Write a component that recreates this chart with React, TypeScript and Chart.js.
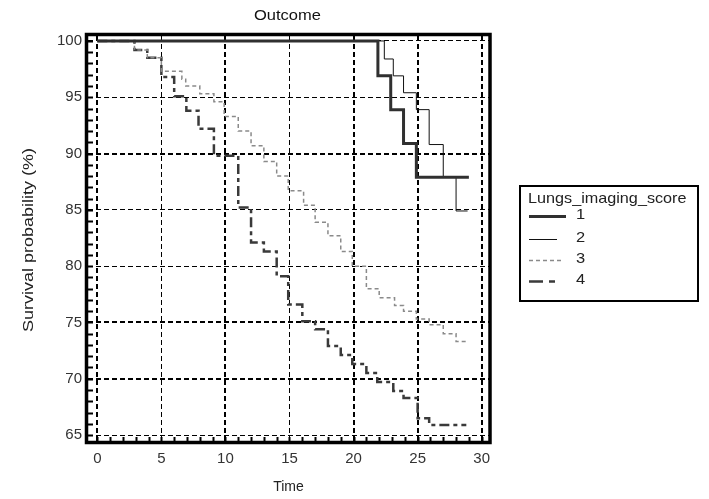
import React, { useEffect, useRef } from 'react';
import { Chart, registerables } from 'chart.js';

Chart.register(...registerables);

// ---- text ----
const chartTitle = 'Outcome';
const xAxisTitle = 'Time';
const yAxisTitle = 'Survival probability (%)';
const legendTitle = 'Lungs_imaging_score';
const seriesLabels = ['1', '2', '3', '4'];

// ---- tick values ----
const xTicks = [0, 5, 10, 15, 20, 25, 30];
const yTicks = [65, 70, 75, 80, 85, 90, 95, 100];

// ---- Kaplan-Meier steps (time of step, survival % after it) ----
const times1 = [0, 21.9, 22.9, 23.9, 24.9, 29.0];
const surv1 = [100, 96.9, 93.9, 90.9, 87.9, 87.9];

const times2 = [0, 22.4, 23.1, 23.9, 24.9, 25.9, 27.0, 28.0, 28.9];
const surv2 = [100, 98.4, 96.9, 95.4, 93.9, 90.8, 87.9, 84.9, 84.9];

const times3 = [0, 2.9, 3.9, 5.0, 6.6, 6.9, 8.0, 9.1, 9.9, 11.0, 12.0, 13.0, 14.0, 14.9, 16.1, 17.0, 18.0, 19.0, 19.9, 21.0, 22.0, 23.2, 23.9, 24.9, 25.9, 27.0, 28.0, 28.8];
const surv3 = [100, 99.2, 98.5, 97.3, 96.6, 96.0, 95.3, 94.6, 93.3, 92.0, 90.7, 89.3, 88.0, 86.7, 85.4, 83.9, 82.7, 81.3, 80.0, 78.0, 77.2, 76.5, 76.0, 75.3, 74.8, 74.0, 73.3, 73.3];

const times4 = [0, 2.9, 3.9, 5.0, 6.0, 6.95, 7.9, 9.1, 11.0, 12.0, 13.0, 14.0, 14.9, 16.0, 17.0, 18.0, 19.0, 19.9, 21.0, 21.85, 23.1, 23.9, 25.0, 25.9, 28.8];
const surv4 = [100, 99.2, 98.5, 96.8, 95.1, 93.8, 92.2, 89.8, 85.2, 82.1, 81.3, 79.1, 76.6, 75.1, 74.4, 72.9, 72.1, 71.3, 70.5, 69.7, 68.9, 68.3, 66.5, 65.9, 65.9];

const seriesTimes = [times1, times2, times3, times4];
const seriesSurv = [surv1, surv2, surv3, surv4];

const seriesStyles = [
  { color: '#303030', width: 3, dash: [] as number[] },
  { color: '#111111', width: 1, dash: [] as number[] },
  { color: '#8a8a8a', width: 1.5, dash: [4, 3] },
  { color: '#3a3a3a', width: 2.5, dash: [10, 4, 4, 4] },
];

const FONT = "'Liberation Sans', Arial, sans-serif";

function stretchedText(
  ctx: CanvasRenderingContext2D,
  text: string,
  x: number,
  y: number,
  size: number,
  sx: number,
  align: CanvasTextAlign,
  color: string,
  rotate = 0
) {
  ctx.save();
  ctx.translate(x, y);
  if (rotate) ctx.rotate(rotate);
  ctx.scale(sx, 1);
  ctx.font = `${size}px ${FONT}`;
  ctx.fillStyle = color;
  ctx.textAlign = align;
  ctx.textBaseline = 'middle';
  ctx.fillText(text, 0, 0);
  ctx.restore();
}

const decorPlugin = {
  id: 'decor',
  afterDraw(chart: any) {
    const ctx: CanvasRenderingContext2D = chart.ctx;
    const x = chart.scales.x;
    const y = chart.scales.y;
    const area = chart.chartArea;

    // minor inward ticks
    ctx.save();
    ctx.strokeStyle = '#000';
    ctx.lineWidth = 2;
    ctx.beginPath();
    for (let v = Math.ceil(y.min); v <= Math.floor(y.max); v++) {
      const py = Math.round(y.getPixelForValue(v)) + 0.5;
      ctx.moveTo(area.left, py);
      ctx.lineTo(area.left + 5, py);
    }
    for (let v = Math.ceil(x.min); v <= Math.floor(x.max); v++) {
      const px = Math.round(x.getPixelForValue(v)) + 0.5;
      ctx.moveTo(px, area.bottom);
      ctx.lineTo(px, area.bottom - 4);
    }
    ctx.stroke();

    // frame
    ctx.lineWidth = 3.5;
    ctx.strokeStyle = '#000';
    ctx.strokeRect(area.left - 1.5, area.top - 1.5, area.right - area.left + 2.5, area.bottom - area.top + 3);
    ctx.restore();

    // titles
    const cx = (area.left + area.right) / 2;
    stretchedText(ctx, chartTitle, cx - 1, 16, 15, 1.1, 'center', '#111');
    stretchedText(ctx, xAxisTitle, cx, 487, 14, 1.0, 'center', '#222');
    stretchedText(ctx, yAxisTitle, 29, 240, 15, 1.2, 'center', '#222', -Math.PI / 2);

    // legend
    const lx = 520, ly = 186, lw = 178, lh = 115;
    ctx.save();
    ctx.lineWidth = 2;
    ctx.strokeStyle = '#000';
    ctx.strokeRect(lx, ly, lw, lh);
    ctx.restore();
    stretchedText(ctx, legendTitle, 528, 199, 15, 1.08, 'left', '#222');
    const rowsY = [216, 239, 260, 281];
    const sampleEnd = [566, 557, 562, 557];
    seriesLabels.forEach((lab, i) => {
      const st = seriesStyles[i];
      ctx.save();
      ctx.strokeStyle = st.color;
      ctx.lineWidth = st.width;
      ctx.setLineDash(i === 3 ? [14, 6, 6, 6] : st.dash);
      ctx.beginPath();
      ctx.moveTo(529, rowsY[i] + 0.5);
      ctx.lineTo(sampleEnd[i], rowsY[i] + 0.5);
      ctx.stroke();
      ctx.restore();
      stretchedText(ctx, lab, 576, rowsY[i] - 1, 15, 1.1, 'left', '#222');
    });
  },
};

export default function App() {
  const ref = useRef<HTMLCanvasElement | null>(null);

  useEffect(() => {
    if (!ref.current) return;
    const datasets = seriesLabels.map((lab, i) => ({
      label: lab,
      data: seriesTimes[i].map((t, k) => ({ x: t, y: seriesSurv[i][k] })),
      stepped: 'before' as const,
      borderColor: seriesStyles[i].color,
      borderWidth: seriesStyles[i].width,
      borderDash: seriesStyles[i].dash,
      pointRadius: 0,
      fill: false,
      tension: 0,
      borderCapStyle: 'butt' as const,
    }));

    const chart = new Chart(ref.current, {
      type: 'line',
      data: { datasets },
      plugins: [decorPlugin],
      options: {
        animation: false,
        responsive: false,
        layout: { padding: { left: 0, top: 36, right: 220, bottom: 0 } },
        plugins: { legend: { display: false }, tooltip: { enabled: false }, title: { display: false } },
        scales: {
          x: {
            type: 'linear',
            min: -0.726,
            max: 30.57,
            afterBuildTicks: (s: any) => { s.ticks = xTicks.map((v) => ({ value: v })); },
            afterFit: (s: any) => { s.height = 58; },
            grid: {
              drawTicks: false,
              color: '#000',
              lineWidth: (c: any) => ([0, 10, 20, 25, 30].includes(c.tick?.value) ? 2 : 1),
            },
            border: { display: false, dash: [5, 3] },
            ticks: { padding: 9, color: '#333', font: { family: FONT, size: 15 }, maxRotation: 0, autoSkip: false },
          },
          y: {
            type: 'linear',
            min: 64.47,
            max: 100.44,
            afterBuildTicks: (s: any) => { s.ticks = yTicks.map((v) => ({ value: v })); },
            afterFit: (s: any) => { s.width = 88; },
            grid: {
              drawTicks: false,
              color: '#000',
              lineWidth: (c: any) => ([70, 75, 90].includes(c.tick?.value) ? 2 : 1),
            },
            border: { display: false, dash: [5, 3] },
            ticks: { padding: 6, color: '#333', font: { family: FONT, size: 15 }, autoSkip: false },
          },
        },
      },
    });
    return () => chart.destroy();
  }, []);

  return (
    <div style={{ position: 'fixed', left: 0, top: 0, width: 709, height: 499, background: '#fff' }}>
      <canvas ref={ref} width={709} height={499} style={{ display: 'block' }} />
    </div>
  );
}
